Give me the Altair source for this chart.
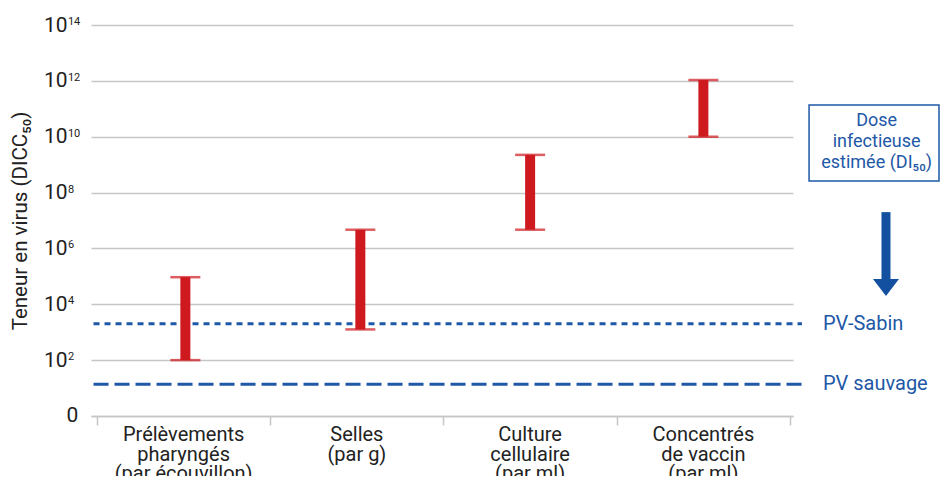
import altair as alt
import pandas as pd

# ---------------- data ----------------
categories = ["Prélèvements\npharyngés\n(par écouvillon)", "Selles\n(par g)",
              "Culture\ncellulaire\n(par ml)", "Concentrés\nde vaccin\n(par ml)"]
cat_pos = [0.5, 1.5, 2.5, 3.5]
bar_pos = [0.51, 1.52, 2.5, 3.5]
log_low = [2.0, 3.1, 6.67, 10.0]     # log10 of virus titre, lower end
log_high = [4.97, 6.67, 9.35, 12.03]  # log10 of virus titre, upper end

ref_names = ["PV-Sabin", "PV sauvage"]
ref_values = [3.3, 1.14]

y_ticks = [0, 2, 4, 6, 8, 10, 12, 14]
y_exp_ticks = [2, 4, 6, 8, 10, 12, 14]
y_exp_labels = ["2", "4", "6", "8", "10", "12", "14"]
x_ticks = [0, 1, 2, 3, 4]

box_text = "Dose\ninfectieuse\nestimée (DI₅₀)"
y_title = "Teneur en virus (DICC₅₀)"

RED = "#CE1A1F"
BLUE = "#1E58A6"
TXT = "#222222"
GRID = "#c6c6c6"
FONT = "Roboto"

XDOM = [-0.0346, 4.0173]
xs = alt.Scale(domain=XDOM, nice=False, zero=False)
ys = alt.Scale(domain=[0, 14], nice=False, zero=False)

bars = pd.DataFrame({"x": bar_pos, "lo": log_low, "hi": log_high})
caps = pd.DataFrame({"x": bar_pos + bar_pos, "y": log_low + log_high})
cats = pd.DataFrame({"x": cat_pos, "label": categories})
refs = pd.DataFrame({"name": ref_names, "y": ref_values})
exps = pd.DataFrame({"y": y_exp_ticks, "e": y_exp_labels})

# base layer carrying axes
axes_layer = alt.Chart(pd.DataFrame({"x": [0], "y": [0]})).mark_point(opacity=0).encode(
    x=alt.X("x:Q", scale=xs, axis=alt.Axis(values=x_ticks, labels=False, grid=False,
                                           domainColor=GRID, domainWidth=1.5,
                                           tickColor=GRID, tickWidth=1.5, tickSize=9,
                                           title=None)),
    y=alt.Y("y:Q", scale=ys, axis=alt.Axis(values=y_ticks,
                                           labelExpr="datum.value == 0 ? '' : '10'",
                                           grid=True, gridColor=GRID, gridWidth=1.5,
                                           domain=False, ticks=False,
                                           labelFont=FONT, labelFontSize=21, labelColor=TXT,
                                           labelPadding=24,
                                           title=y_title, titleFont=FONT, titleFontSize=20.5,
                                           titleFontWeight="normal", titleColor=TXT,
                                           titlePadding=13)),
)

exp_labels = alt.Chart(exps).mark_text(align="left", baseline="alphabetic", font=FONT,
                                        fontSize=11, color=TXT).encode(
    x=alt.datum(-0.168, scale=xs), y=alt.Y("y:Q", scale=ys), text="e:N")

zero_label = alt.Chart(pd.DataFrame({"y": [0], "t": ["0"]})).mark_text(
    align="right", baseline="middle", font=FONT, fontSize=21, color=TXT).encode(
    x=alt.datum(-0.108, scale=xs), y=alt.Y("y:Q", scale=ys), text="t:N")

stems = alt.Chart(bars).mark_rule(color=RED, strokeWidth=10, strokeCap="butt").encode(
    x=alt.X("x:Q", scale=xs), y=alt.Y("lo:Q", scale=ys), y2="hi:Q")

cap_marks = alt.Chart(caps).mark_tick(color=RED, orient="horizontal", size=30, thickness=2.5).encode(
    x=alt.X("x:Q", scale=xs), y=alt.Y("y:Q", scale=ys))

sabin = alt.Chart(refs[refs.name == "PV-Sabin"]).mark_rule(
    color=BLUE, strokeWidth=3, strokeDash=[6, 5]).encode(
    x=alt.datum(-0.02, scale=xs), x2=alt.datum(4.069), y=alt.Y("y:Q", scale=ys))

sauvage = alt.Chart(refs[refs.name == "PV sauvage"]).mark_rule(
    color=BLUE, strokeWidth=3, strokeDash=[15, 6]).encode(
    x=alt.datum(-0.02, scale=xs), x2=alt.datum(4.08), y=alt.Y("y:Q", scale=ys))

ref_labels = alt.Chart(refs).mark_text(align="left", baseline="middle", font=FONT,
                                        fontSize=20, color=BLUE).encode(
    x=alt.datum(4.19, scale=xs), y=alt.Y("y:Q", scale=ys), text="name:N")

cat_labels = alt.Chart(cats).mark_text(align="center", baseline="top", lineBreak="\n",
                                        font=FONT, fontSize=20, lineHeight=19.5,
                                        color=TXT).encode(
    x=alt.X("x:Q", scale=xs), y=alt.datum(-0.33, scale=ys), text="label:N")

box = alt.Chart(pd.DataFrame({"t": [box_text]})).mark_rect(
    fill="white", stroke=BLUE, strokeWidth=1.5).encode(
    x=alt.datum(4.11, scale=xs), x2=alt.datum(4.86),
    y=alt.datum(11.135, scale=ys), y2=alt.datum(8.414))

box_label = alt.Chart(pd.DataFrame({"t": [box_text]})).mark_text(
    align="center", baseline="middle", lineBreak="\n", font=FONT, fontSize=18,
    lineHeight=21, color=BLUE).encode(
    x=alt.datum(4.50, scale=xs), y=alt.datum(10.56, scale=ys), text="t:N")

arrow_stem = alt.Chart(pd.DataFrame({"a": [0]})).mark_rule(
    color="#1450A0", strokeWidth=9, strokeCap="butt").encode(
    x=alt.datum(4.554, scale=xs), y=alt.datum(7.30, scale=ys), y2=alt.datum(4.74))

arrow_head = alt.Chart(pd.DataFrame({"a": [0]})).mark_point(
    shape="M-1,-0.65L1,-0.65L0,0.65Z", size=676, filled=True, opacity=1,
    color="#1450A0").encode(
    x=alt.datum(4.554, scale=xs), y=alt.datum(4.60, scale=ys))

chart = alt.layer(
    axes_layer, exp_labels, zero_label, sabin, sauvage, stems, cap_marks, ref_labels,
    cat_labels, box, box_label, arrow_stem, arrow_head
).properties(
    width=702, height=391,
    autosize=alt.AutoSizeParams(type="none"),
    padding={"left": 83, "top": 17, "right": 147, "bottom": 60},
).configure_view(stroke=None)

chart.save("out.html", embed_options={"renderer": "svg", "actions": False})
